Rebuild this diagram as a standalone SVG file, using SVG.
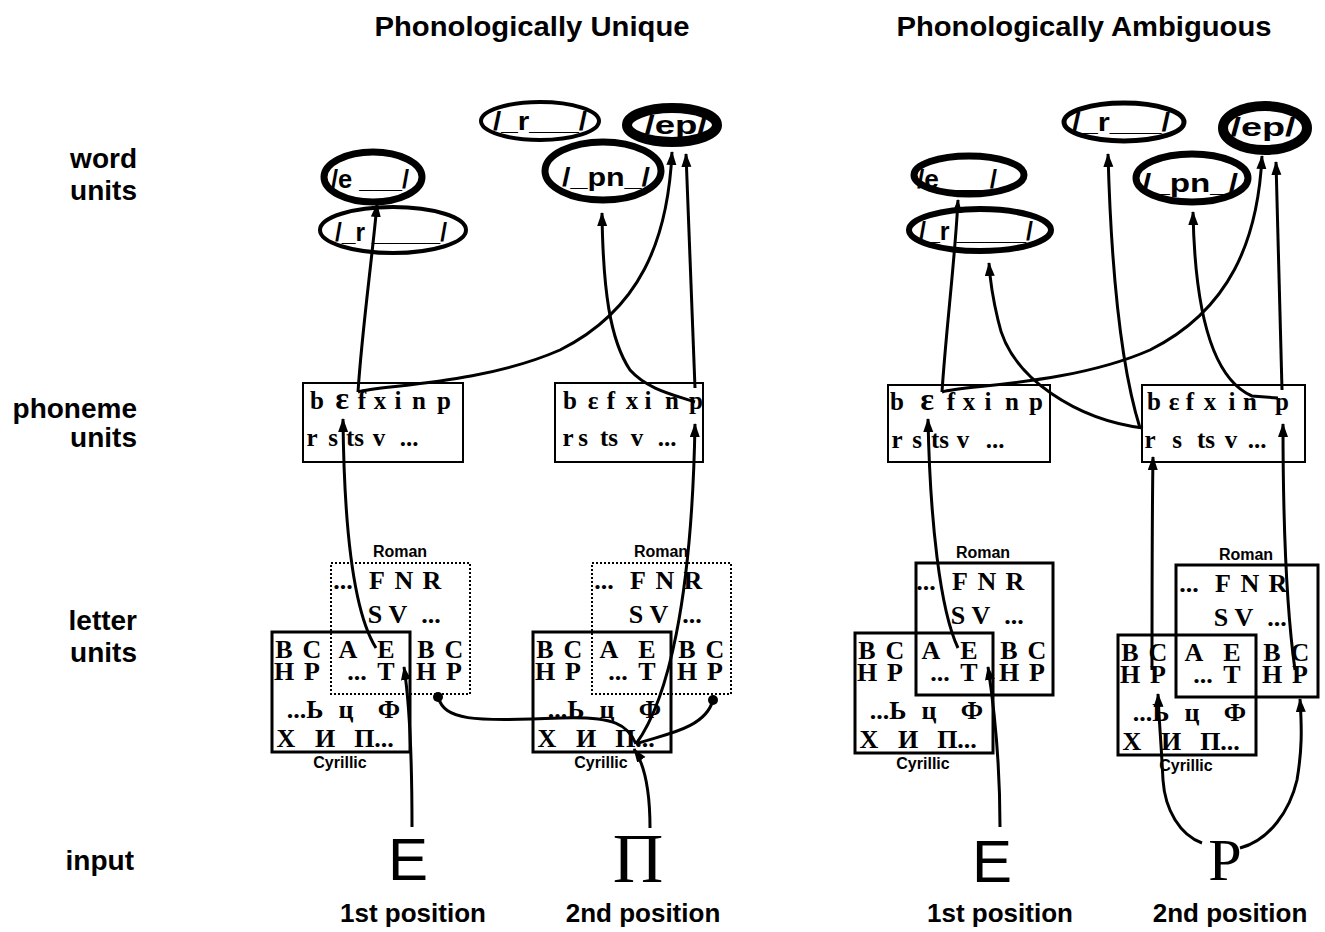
<svg xmlns="http://www.w3.org/2000/svg" width="1325" height="932" viewBox="0 0 1325 932">
<style>
.s{font-family:"Liberation Sans",Arial,sans-serif;font-weight:bold;fill:#000}
.lab{font-size:28px;text-anchor:end}
.ttl{font-size:27px;text-anchor:middle}
.pos{font-size:26px;text-anchor:middle}
.ew{font-size:25px;text-anchor:middle}
.sm{font-size:16px;text-anchor:middle}
.ell{fill:none;stroke:#000}
.ph{font-family:"Liberation Serif","DejaVu Serif",serif;font-weight:bold;font-size:25px;text-anchor:middle;fill:#000}
.big{font-size:32px}
.box{fill:none;stroke:#000;stroke-width:2}
.lt{font-family:"Liberation Serif","DejaVu Serif",serif;font-weight:bold;font-size:26px;text-anchor:middle;fill:#000}
.cyr{fill:none;stroke:#000;stroke-width:3}
.romd{fill:none;stroke:#000;stroke-width:2;stroke-dasharray:2 2}
.roms{fill:none;stroke:#000;stroke-width:3}
.c{fill:none;stroke:#000;stroke-width:3}
.a{marker-end:url(#ah)}
.inS{font-family:"Liberation Sans",Arial,sans-serif;font-size:60px;text-anchor:middle}
.inR{font-family:"Liberation Serif","DejaVu Serif",serif;font-size:70px;text-anchor:middle}
.inP{font-family:"Liberation Serif","DejaVu Serif",serif;font-size:60px;text-anchor:middle}
</style>
<defs>
<marker id="ah" markerUnits="userSpaceOnUse" markerWidth="16" markerHeight="12" refX="13" refY="5" orient="auto">
<path d="M0,0 L14,5 L0,10 z" fill="#000"/>
</marker>
<g id="lu">
<rect class="cyr" x="0" y="0" width="138" height="120"/>
<text class="s sm" x="128" y="-75">Roman</text>
<text class="s sm" x="68" y="136">Cyrillic</text>
<text class="lt" y="-43"><tspan x="71">...</tspan><tspan x="105">F</tspan><tspan x="132">N</tspan><tspan x="160">R</tspan></text>
<text class="lt" y="-9"><tspan x="103">S</tspan><tspan x="126">V</tspan><tspan x="159">...</tspan></text>
<text class="lt" y="26"><tspan x="12">B</tspan><tspan x="40">C</tspan><tspan x="76">A</tspan><tspan x="114">E</tspan><tspan x="154">B</tspan><tspan x="182">C</tspan></text>
<text class="lt" y="48"><tspan x="12">H</tspan><tspan x="40">P</tspan><tspan x="85">...</tspan><tspan x="114">T</tspan><tspan x="154">H</tspan><tspan x="182">P</tspan></text>
<text class="lt" y="86"><tspan x="33">...Ь</tspan><tspan x="74">ц</tspan><tspan x="117">Ф</tspan></text>
<text class="lt" y="115"><tspan x="14">Х</tspan><tspan x="53">И</tspan><tspan x="102">П...</tspan></text>
</g>
</defs>
<rect width="1325" height="932" fill="#fff"/>

<g id="titles">
<text class="s ttl" x="532" y="36" textLength="315" lengthAdjust="spacingAndGlyphs">Phonologically Unique</text>
<text class="s ttl" x="1084" y="36" textLength="375" lengthAdjust="spacingAndGlyphs">Phonologically Ambiguous</text>
</g>

<g id="row-labels">
<text class="s lab" x="137" y="168">word</text>
<text class="s lab" x="137" y="200">units</text>
<text class="s lab" x="137" y="418">phoneme</text>
<text class="s lab" x="137" y="447">units</text>
<text class="s lab" x="137" y="630">letter</text>
<text class="s lab" x="137" y="662">units</text>
<text class="s lab" x="134" y="870">input</text>
</g>

<!-- word units, left -->
<g id="wL-r2">
<ellipse class="ell" cx="393" cy="230" rx="73" ry="23" stroke-width="4"/>
<text class="s ew" x="391" y="241" textLength="112" lengthAdjust="spacingAndGlyphs">/_r _____/</text>
</g>
<g id="wL-e">
<ellipse class="ell" cx="373" cy="177" rx="49" ry="25" stroke-width="7"/>
<text class="s ew" x="370" y="188" textLength="78" lengthAdjust="spacingAndGlyphs">/e ___/</text>
</g>
<g id="wL-r1">
<ellipse class="ell" cx="540" cy="121" rx="59" ry="19" stroke-width="4"/>
<text class="s ew" x="540" y="130" textLength="94" lengthAdjust="spacingAndGlyphs">/_r___/</text>
</g>
<g id="wL-ep">
<ellipse class="ell" cx="672" cy="125" rx="45" ry="17" stroke-width="10"/>
<text class="s ew" x="676" y="134" textLength="63" lengthAdjust="spacingAndGlyphs">/ep/</text>
</g>
<g id="wL-pn">
<ellipse class="ell" cx="603" cy="171" rx="58" ry="29" stroke-width="7"/>
<text class="s ew" x="606" y="186" textLength="88" lengthAdjust="spacingAndGlyphs">/_pn_/</text>
</g>

<!-- word units, right -->
<g id="wR-r2">
<ellipse class="ell" cx="980" cy="230" rx="71" ry="21" stroke-width="6"/>
<text class="s ew" x="976" y="240" textLength="114" lengthAdjust="spacingAndGlyphs">/_r _____/</text>
</g>
<g id="wR-e">
<ellipse class="ell" cx="969" cy="175" rx="55" ry="19" stroke-width="7"/>
<text class="s ew" x="957" y="188" textLength="80" lengthAdjust="spacingAndGlyphs">/e ___/</text>
</g>
<g id="wR-r1">
<ellipse class="ell" cx="1124" cy="122" rx="60" ry="19" stroke-width="5"/>
<text class="s ew" x="1121" y="131" textLength="98" lengthAdjust="spacingAndGlyphs">/_r___/</text>
</g>
<g id="wR-ep">
<ellipse class="ell" cx="1265" cy="128" rx="42" ry="22" stroke-width="10"/>
<text class="s ew" x="1263" y="136" textLength="65" lengthAdjust="spacingAndGlyphs">/ep/</text>
</g>
<g id="wR-pn">
<ellipse class="ell" cx="1192" cy="178" rx="56" ry="24" stroke-width="7"/>
<text class="s ew" x="1190" y="192" textLength="96" lengthAdjust="spacingAndGlyphs">/_pn_/</text>
</g>

<!-- phoneme units -->
<g id="pL1">
<rect class="box" x="303" y="383" width="160" height="79"/>
<text class="ph" y="409"><tspan x="317">b</tspan><tspan x="342" class="big">ɛ</tspan><tspan x="362">f</tspan><tspan x="380">x</tspan><tspan x="398">i</tspan><tspan x="419">n</tspan><tspan x="444">p</tspan></text>
<text class="ph" y="446"><tspan x="312">r</tspan><tspan x="333">s</tspan><tspan x="355">ts</tspan><tspan x="379">v</tspan><tspan x="409">...</tspan></text>
</g>
<g id="pL2">
<rect class="box" x="555" y="383" width="148" height="79"/>
<text class="ph" y="409"><tspan x="570">b</tspan><tspan x="593">ε</tspan><tspan x="611">f</tspan><tspan x="632">x</tspan><tspan x="648">i</tspan><tspan x="672">n</tspan><tspan x="696">p</tspan></text>
<text class="ph" y="446"><tspan x="568">r</tspan><tspan x="583">s</tspan><tspan x="609">ts</tspan><tspan x="637">v</tspan><tspan x="667">...</tspan></text>
</g>
<g id="pR1">
<rect class="box" x="888" y="385" width="162" height="77"/>
<text class="ph" y="410"><tspan x="897">b</tspan><tspan x="927" class="big">ɛ</tspan><tspan x="951">f</tspan><tspan x="969">x</tspan><tspan x="988">i</tspan><tspan x="1012">n</tspan><tspan x="1036">p</tspan></text>
<text class="ph" y="448"><tspan x="897">r</tspan><tspan x="917">s</tspan><tspan x="940">ts</tspan><tspan x="963">v</tspan><tspan x="995">...</tspan></text>
</g>
<g id="pR2">
<rect class="box" x="1142" y="385" width="163" height="77"/>
<text class="ph" y="410"><tspan x="1154">b</tspan><tspan x="1174">ε</tspan><tspan x="1190">f</tspan><tspan x="1210">x</tspan><tspan x="1232">i</tspan><tspan x="1250">n</tspan><tspan x="1282">p</tspan></text>
<text class="ph" y="448"><tspan x="1150">r</tspan><tspan x="1177">s</tspan><tspan x="1206">ts</tspan><tspan x="1231">v</tspan><tspan x="1257">...</tspan></text>
</g>

<!-- letter units -->
<g id="lL1" transform="translate(272,632)">
<rect class="romd" x="59" y="-69" width="139" height="131"/>
<use href="#lu"/>
</g>
<g id="lL2" transform="translate(533,632)">
<rect class="romd" x="59" y="-69" width="139" height="131"/>
<use href="#lu"/>
</g>
<g id="lR1" transform="translate(855,633)">
<rect class="roms" x="61" y="-70" width="137" height="132"/>
<use href="#lu"/>
</g>
<g id="lR2" transform="translate(1118,635)">
<rect class="roms" x="58" y="-70" width="142" height="132"/>
<use href="#lu"/>
</g>

<!-- input -->
<g id="inL1"><text class="inS" x="408" y="880">E</text><text class="s pos" x="413" y="922">1st position</text></g>
<g id="inL2"><text class="inR" x="638" y="882">П</text><text class="s pos" x="643" y="922">2nd position</text></g>
<g id="inR1"><text class="inS" x="992" y="882">E</text><text class="s pos" x="1000" y="922">1st position</text></g>
<g id="inR2"><text class="inP" x="1225" y="880">P</text><text class="s pos" x="1230" y="922">2nd position</text></g>

<g id="connectors">
<!-- left panel -->
<path class="c a" d="M412,827 C412,760 409,700 404,667"/>
<path class="c a" d="M376,648 C352,610 344,520 343,419"/>
<path class="c a" d="M358,392 C362,330 372,260 377,204"/>
<path class="c a" d="M358,392 C380,385 480,385 560,350 C640,310 668,240 672,152"/>
<path class="c a" d="M695,402 C675,395 648,390 630,370 C610,340 603,290 602,213"/>
<path class="c a" d="M695,388 C692,300 688,220 686,154"/>
<path class="c a" d="M650,828 C650,790 645,765 634,749"/>
<path class="c a" d="M636,744 C668,700 692,600 695,424"/>
<path class="c" d="M636,744 C660,735 705,730 713,700"/>
<path class="c" d="M438,697 C445,720 470,722 560,718 C615,716 628,725 636,744"/>
<circle cx="713" cy="700" r="5" fill="#000"/>
<circle cx="438" cy="697" r="5" fill="#000"/>
<!-- right panel -->
<path class="c a" d="M1000,827 C1000,760 993,700 988,667"/>
<path class="c a" d="M958,648 C940,610 930,520 928,419"/>
<path class="c a" d="M942,392 C946,330 955,260 958,200"/>
<path class="c a" d="M942,392 C965,385 1070,385 1150,350 C1230,310 1258,240 1262,156"/>
<path class="c a" d="M1143,428 C1080,420 1010,380 998,320 C992,295 990,280 989,263"/>
<path class="c a" d="M1140,428 C1125,380 1112,300 1108,154"/>
<path class="c a" d="M1278,398 L1252,396 C1215,380 1195,320 1193,212"/>
<path class="c a" d="M1282,390 C1280,300 1278,230 1276,162"/>
<path class="c a" d="M1202,843 C1180,835 1165,810 1163,780 C1161,740 1159,720 1158,694"/>
<path class="c a" d="M1240,848 C1270,840 1290,810 1297,780 C1302,750 1302,730 1300,699"/>
<path class="c a" d="M1152,670 C1152,600 1152,520 1153,457"/>
<path class="c a" d="M1295,670 C1288,620 1283,540 1283,424"/>
</g>
</svg>
